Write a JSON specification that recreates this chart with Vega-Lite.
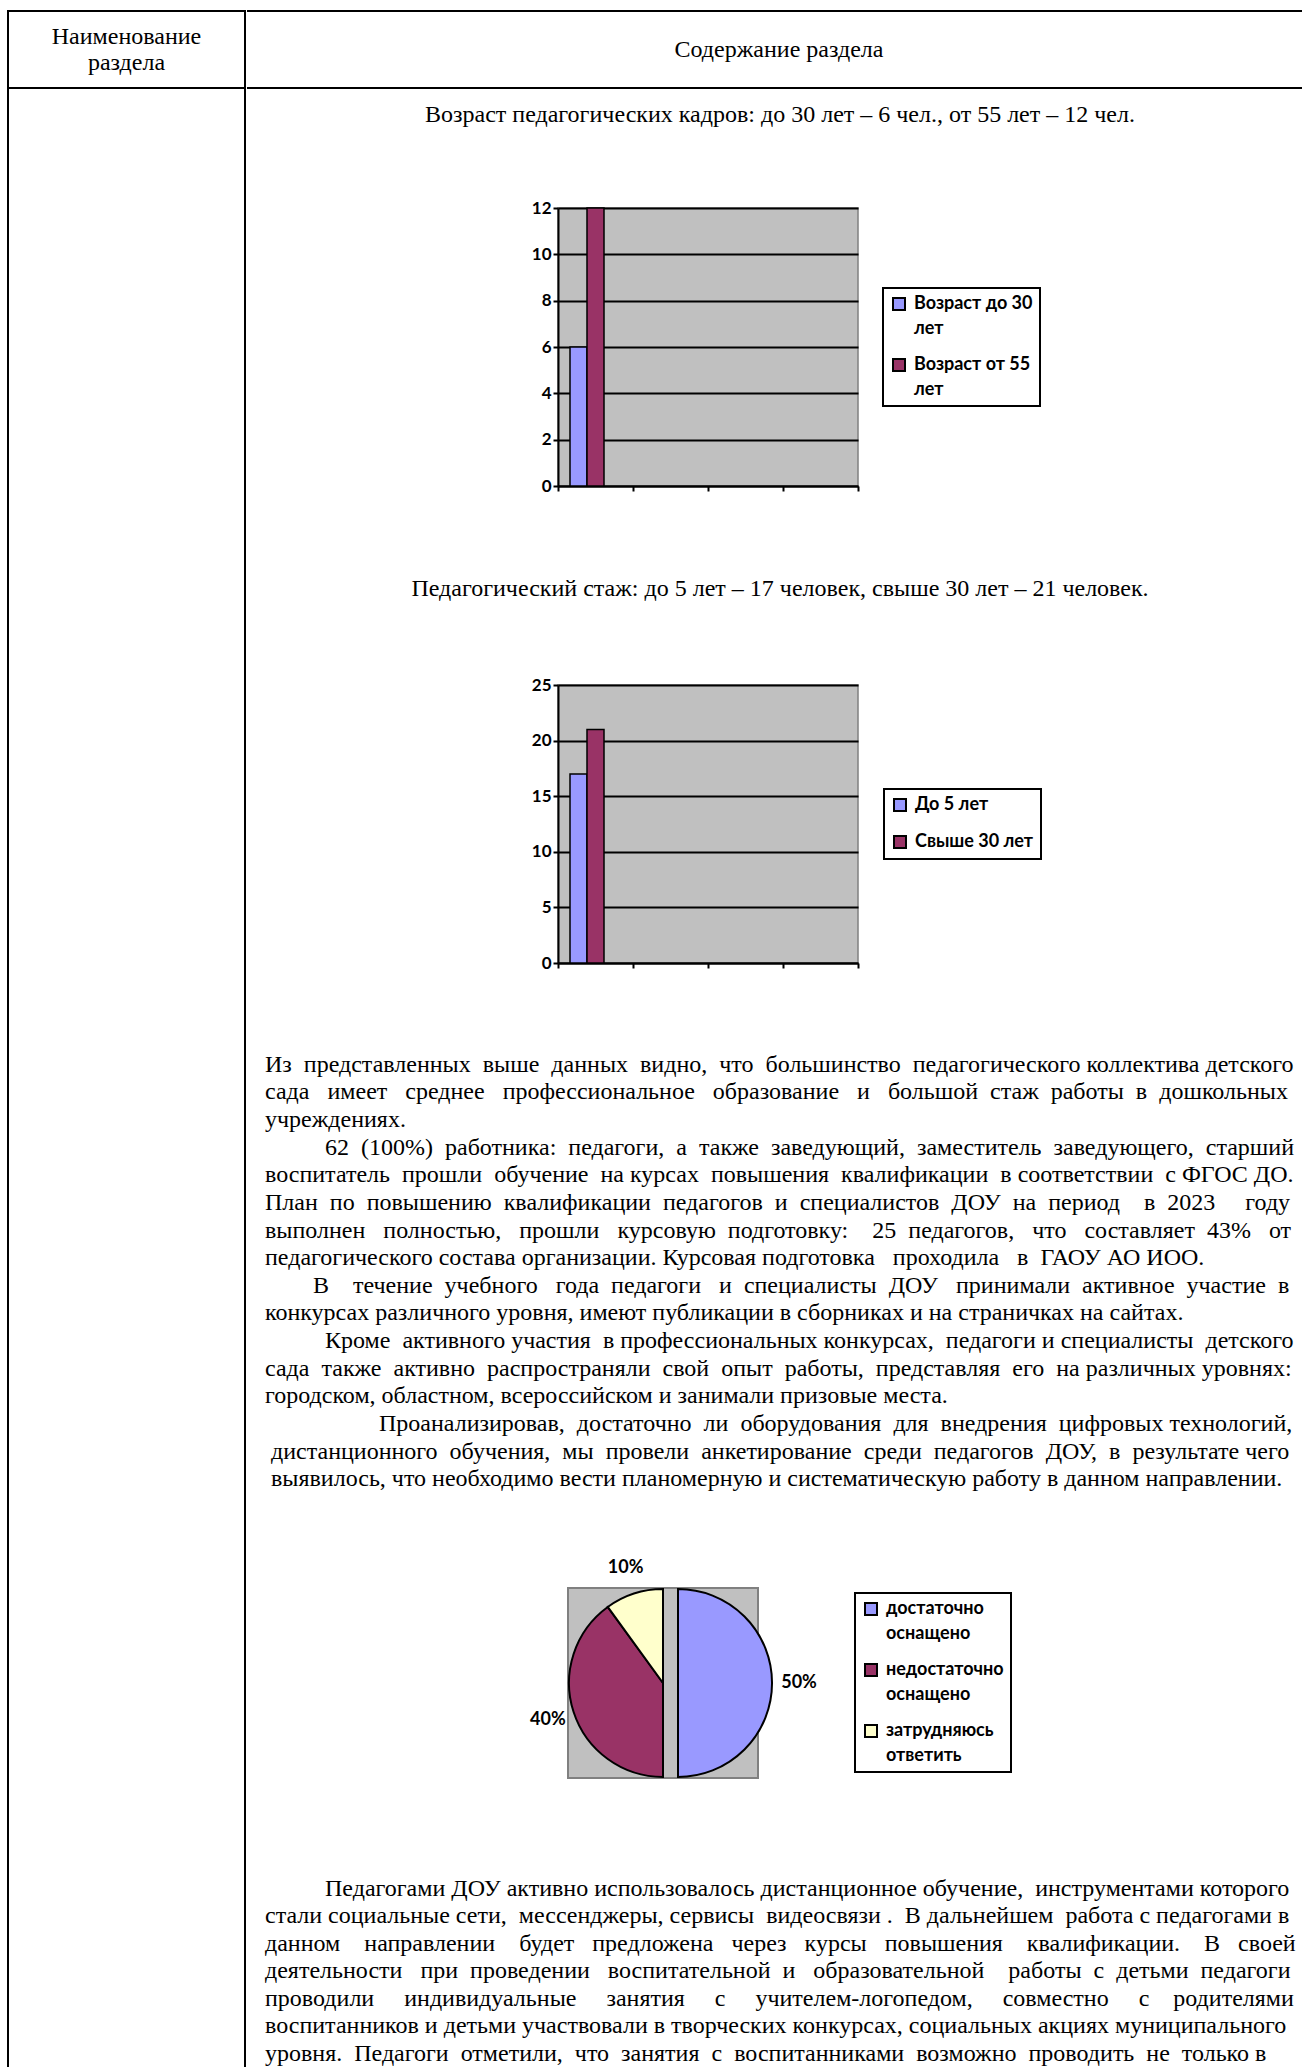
{
  "$schema": "https://vega.github.io/schema/vega-lite/v6.json",
  "padding": {"left": 7, "top": 10, "right": 0, "bottom": 0},
  "background": "white",
  "spacing": 0,
  "config": {
    "view": {"stroke": null},
    "style": {"guide-label": {"lineHeight": 25}},
    "legend": {
      "orient": "none",
      "title": null,
      "strokeColor": "black",
      "strokeWidth": 2,
      "fillColor": "white",
      "padding": 7,
      "symbolType": "square",
      "symbolSize": 144,
      "symbolStrokeColor": "black",
      "symbolStrokeWidth": 2,
      "symbolOpacity": 1,
      "labelFont": "Lato",
      "labelFontWeight": "bold",
      "labelFontSize": 18,
      "labelColor": "black",
      "labelOffset": 6,
      "labelLimit": 300,
      "rowPadding": 17
    }
  },
  "resolve": {"scale": {"color": "independent", "theta": "independent"}, "legend": {"color": "independent"}},
  "hconcat": [
    {
      "vconcat": [
        {
          "width": 237, "height": 77,
          "view": {"stroke": "black", "strokeWidth": 2},
          "data": {"values": [{"t": ["Наименование", "раздела"]}]},
          "mark": {"type": "text", "font": "Liberation Serif", "fontSize": 24, "lineHeight": 26, "dy": -13, "color": "black"},
          "encoding": {"text": {"field": "t"}}
        },
        {
          "width": 237, "height": 1979,
          "view": {"stroke": "black", "strokeWidth": 2, "strokeDash": [2216, 237, 1979]},
          "data": {"values": []},
          "mark": "point"
        }
      ],
      "spacing": 0,
      "bounds": "flush"
    },
    {
      "vconcat": [
        {
          "width": 1055, "height": 77,
          "view": {"stroke": "black", "strokeWidth": 2, "strokeDash": [1055, 77, 1055, 77]},
          "data": {"values": [{"t": "Содержание раздела"}]},
          "mark": {"type": "text", "font": "Liberation Serif", "fontSize": 24, "color": "black", "dx": 4.5},
          "encoding": {"text": {"field": "t"}}
        },
        {
          "width": 1056, "height": 52,
          "data": {"values": [{"t": "Возраст педагогических кадров: до 30 лет – 6 чел., от 55 лет – 12 чел."}]},
          "mark": {"type": "text", "font": "Liberation Serif", "fontSize": 24, "color": "black", "dx": 5},
          "encoding": {"text": {"field": "t"}}
        },
        {"width": 1, "height": 56.5, "data": {"values": []}, "mark": "point"},
        {
          "hconcat": [
            {"width": 311, "height": 278, "data": {"values": []}, "mark": "point"},
            {
              "width": 300, "height": 278,
              "view": {"fill": "#C0C0C0", "stroke": "#808080", "strokeWidth": 1.5},
              "data": {"values": [
                {"cat": "1", "series": "Возраст до 30 лет", "value": 6},
                {"cat": "1", "series": "Возраст от 55 лет", "value": 12}
              ]},
              "encoding": {
                "x": {"field": "cat", "type": "nominal",
                  "scale": {"domain": ["1", "2", "3", "4"], "paddingInner": 0, "paddingOuter": 0},
                  "axis": {"title": null, "labels": false, "tickBand": "extent", "tickSize": 5, "tickColor": "black", "tickWidth": 2, "domainColor": "black", "domainWidth": 2, "grid": false}},
                "y": {"field": "value", "type": "quantitative",
                  "scale": {"domain": [0, 12]},
                  "axis": {"title": null, "values": [0, 2, 4, 6, 8, 10, 12], "grid": true, "gridColor": "black", "gridWidth": 2,
                    "domainColor": "black", "domainWidth": 2, "tickColor": "black", "tickWidth": 2, "tickSize": 5,
                    "labelFont": "Lato", "labelFontWeight": "bold", "labelFontSize": 17, "labelColor": "black", "labelPadding": 2}},
                "color": {"field": "series", "type": "nominal",
                  "scale": {"domain": ["Возраст до 30 лет", "Возраст от 55 лет"], "range": ["#9999FF", "#993366"]},
                  "legend": {"legendX": 636, "legendY": 80,
                    "labelExpr": "[slice(datum.label, 0, lastindexof(datum.label, ' ')), slice(datum.label, lastindexof(datum.label, ' ') + 1)]"}}
              },
              "layer": [
                {
                  "transform": [{"filter": "datum.series == 'Возраст до 30 лет'"}],
                  "mark": {"type": "bar", "stroke": "black", "strokeWidth": 1.5, "width": {"band": 0.2267}, "xOffset": -17}
                },
                {
                  "transform": [{"filter": "datum.series == 'Возраст от 55 лет'"}],
                  "mark": {"type": "bar", "stroke": "black", "strokeWidth": 1.5, "width": {"band": 0.2267}}
                }
              ]
            }
          ],
          "spacing": 0,
          "bounds": "flush"
        },
        {
          "width": 1056, "height": 180,
          "data": {"values": [{"t": "Педагогический стаж: до 5 лет – 17 человек, свыше 30 лет – 21 человек."}]},
          "mark": {"type": "text", "font": "Liberation Serif", "fontSize": 24, "color": "black", "dx": 5, "dy": 4},
          "encoding": {"text": {"field": "t"}}
        },
        {
          "hconcat": [
            {"width": 311, "height": 278, "data": {"values": []}, "mark": "point"},
            {
              "width": 300, "height": 278,
              "view": {"fill": "#C0C0C0", "stroke": "#808080", "strokeWidth": 1.5},
              "data": {"values": [
                {"cat": "1", "series": "До 5 лет", "value": 17},
                {"cat": "1", "series": "Свыше 30 лет", "value": 21}
              ]},
              "encoding": {
                "x": {"field": "cat", "type": "nominal",
                  "scale": {"domain": ["1", "2", "3", "4"], "paddingInner": 0, "paddingOuter": 0},
                  "axis": {"title": null, "labels": false, "tickBand": "extent", "tickSize": 5, "tickColor": "black", "tickWidth": 2, "domainColor": "black", "domainWidth": 2, "grid": false}},
                "y": {"field": "value", "type": "quantitative",
                  "scale": {"domain": [0, 25]},
                  "axis": {"title": null, "values": [0, 5, 10, 15, 20, 25], "grid": true, "gridColor": "black", "gridWidth": 2,
                    "domainColor": "black", "domainWidth": 2, "tickColor": "black", "tickWidth": 2, "tickSize": 5,
                    "labelFont": "Lato", "labelFontWeight": "bold", "labelFontSize": 17, "labelColor": "black", "labelPadding": 2}},
                "color": {"field": "series", "type": "nominal",
                  "scale": {"domain": ["До 5 лет", "Свыше 30 лет"], "range": ["#9999FF", "#993366"]},
                  "legend": {"legendX": 637, "legendY": 104}}
              },
              "layer": [
                {
                  "transform": [{"filter": "datum.series == 'До 5 лет'"}],
                  "mark": {"type": "bar", "stroke": "black", "strokeWidth": 1.5, "width": {"band": 0.2267}, "xOffset": -17}
                },
                {
                  "transform": [{"filter": "datum.series == 'Свыше 30 лет'"}],
                  "mark": {"type": "bar", "stroke": "black", "strokeWidth": 1.5, "width": {"band": 0.2267}}
                }
              ]
            }
          ],
          "spacing": 0,
          "bounds": "flush"
        },
        {"width": 1, "height": 78.8, "data": {"values": []}, "mark": "point"},
        {
          "hconcat": [
            {"width": 18, "height": 442.1, "data": {"values": []}, "mark": "point"},
            {
              "width": 1, "height": 442.1,
              "data": {"values": [
                {"n": 1, "s": "Из \u00a0представленных \u00a0выше \u00a0данных \u00a0видно, \u00a0что \u00a0большинство \u00a0педагогического коллектива детского"},
                {"n": 2, "s": "сада \u00a0\u00a0имеет \u00a0\u00a0среднее \u00a0\u00a0профессиональное \u00a0\u00a0образование \u00a0\u00a0и \u00a0\u00a0большой \u00a0стаж \u00a0работы \u00a0в \u00a0дошкольных"},
                {"n": 3, "s": "учреждениях."},
                {"n": 4, "s": "\u200b\u00a0\u00a0\u00a0\u00a0\u00a0\u00a0\u00a0\u00a0\u00a0\u00a062 \u00a0(100%) \u00a0работника: \u00a0педагоги, \u00a0а \u00a0также \u00a0заведующий, \u00a0заместитель \u00a0заведующего, \u00a0старший"},
                {"n": 5, "s": "воспитатель \u00a0прошли \u00a0обучение \u00a0на курсах \u00a0повышения \u00a0квалификации \u00a0в соответствии \u00a0с ФГОС ДО."},
                {"n": 6, "s": "План \u00a0по \u00a0повышению \u00a0квалификации \u00a0педагогов \u00a0и \u00a0специалистов \u00a0ДОУ \u00a0на \u00a0период \u00a0\u00a0\u00a0в \u00a02023 \u00a0\u00a0\u00a0\u00a0году"},
                {"n": 7, "s": "выполнен \u00a0\u00a0полностью, \u00a0\u00a0прошли \u00a0\u00a0курсовую \u00a0подготовку: \u00a0\u00a0\u00a025 \u00a0педагогов, \u00a0\u00a0что \u00a0\u00a0составляет \u00a043% \u00a0\u00a0от"},
                {"n": 8, "s": "педагогического состава организации. Курсовая подготовка \u00a0\u00a0проходила \u00a0\u00a0в \u00a0ГАОУ АО ИОО."},
                {"n": 9, "s": "\u200b\u00a0\u00a0\u00a0\u00a0\u00a0\u00a0\u00a0\u00a0В \u00a0\u00a0\u00a0течение \u00a0учебного \u00a0\u00a0года \u00a0педагоги \u00a0\u00a0и \u00a0специалисты \u00a0ДОУ \u00a0\u00a0принимали \u00a0активное \u00a0участие \u00a0в"},
                {"n": 10, "s": "конкурсах различного уровня, имеют публикации в сборниках и на страничках на сайтах."},
                {"n": 11, "s": "\u200b\u00a0\u00a0\u00a0\u00a0\u00a0\u00a0\u00a0\u00a0\u00a0\u00a0Кроме \u00a0активного участия \u00a0в профессиональных конкурсах, \u00a0педагоги и специалисты \u00a0детского"},
                {"n": 12, "s": "сада \u00a0также \u00a0активно \u00a0распространяли \u00a0свой \u00a0опыт \u00a0работы, \u00a0представляя \u00a0его \u00a0на различных уровнях:"},
                {"n": 13, "s": "городском, областном, всероссийском и занимали призовые места."},
                {"n": 14, "s": "\u200b\u00a0\u00a0\u00a0\u00a0\u00a0\u00a0\u00a0\u00a0\u00a0\u00a0\u00a0\u00a0\u00a0\u00a0\u00a0\u00a0\u00a0\u00a0\u00a0Проанализировав, \u00a0достаточно \u00a0ли \u00a0оборудования \u00a0для \u00a0внедрения \u00a0цифровых технологий,"},
                {"n": 15, "s": "\u200b\u00a0дистанционного \u00a0обучения, \u00a0мы \u00a0провели \u00a0анкетирование \u00a0среди \u00a0педагогов \u00a0ДОУ, \u00a0в \u00a0результате чего"},
                {"n": 16, "s": "\u200b\u00a0выявилось, что необходимо вести планомерную и систематическую работу в данном направлении."}
              ]},
              "mark": {"type": "text", "align": "left", "baseline": "middle", "font": "Liberation Serif", "fontSize": 24, "color": "black"},
              "encoding": {
                "y": {"field": "n", "type": "ordinal", "axis": null, "scale": {"type": "band", "paddingInner": 0, "paddingOuter": 0}},
                "x": {"datum": 0, "type": "quantitative", "scale": {"domain": [0, 1]}, "axis": null},
                "text": {"field": "s"}
              }
            }
          ],
          "spacing": 0,
          "bounds": "flush"
        },
        {"width": 1, "height": 62.9, "data": {"values": []}, "mark": "point"},
        {
          "hconcat": [
            {"width": 321, "height": 190, "data": {"values": []}, "mark": "point"},
            {
              "width": 190, "height": 190,
              "view": {"fill": "#C0C0C0", "stroke": "#808080", "strokeWidth": 2},
              "data": {"values": [
                {"cat": "достаточно оснащено", "pct": 50, "ord": 1, "label": "50%"},
                {"cat": "недостаточно оснащено", "pct": 40, "ord": 2, "label": "40%"},
                {"cat": "затрудняюсь ответить", "pct": 10, "ord": 3, "label": "10%"}
              ]},
              "encoding": {
                "theta": {"field": "pct", "type": "quantitative", "stack": true},
                "order": {"field": "ord", "type": "quantitative"}
              },
              "layer": [
                {
                  "mark": {"type": "arc", "outerRadius": 94, "stroke": "black", "strokeWidth": 2},
                  "encoding": {
                    "color": {"field": "cat", "type": "nominal",
                      "scale": {"domain": ["достаточно оснащено", "недостаточно оснащено", "затрудняюсь ответить"], "range": ["#9999FF", "#993366", "#FFFFCC"]},
                      "legend": {"legendX": 608, "legendY": 5,
                        "labelExpr": "[slice(datum.label, 0, lastindexof(datum.label, ' ')), slice(datum.label, lastindexof(datum.label, ' ') + 1)]"}},
                    "opacity": {"condition": {"test": "datum.ord == 1", "value": 0}, "value": 1}
                  }
                },
                {
                  "mark": {"type": "arc", "outerRadius": 94, "stroke": "black", "strokeWidth": 2, "xOffset": 15},
                  "encoding": {
                    "color": {"field": "cat", "type": "nominal"},
                    "opacity": {"condition": {"test": "datum.ord == 1", "value": 1}, "value": 0}
                  }
                },
                {
                  "mark": {"type": "text", "radius": 121, "font": "Lato", "fontWeight": "bold", "fontSize": 18, "color": "black"},
                  "encoding": {
                    "text": {"field": "label"},
                    "opacity": {"condition": {"test": "datum.ord == 1", "value": 0}, "value": 1}
                  }
                },
                {
                  "mark": {"type": "text", "radius": 121, "font": "Lato", "fontWeight": "bold", "fontSize": 18, "color": "black", "xOffset": 15},
                  "encoding": {
                    "text": {"field": "label"},
                    "opacity": {"condition": {"test": "datum.ord == 1", "value": 1}, "value": 0}
                  }
                }
              ]
            }
          ],
          "spacing": 0,
          "bounds": "flush"
        },
        {"width": 1, "height": 92.8, "data": {"values": []}, "mark": "point"},
        {
          "hconcat": [
            {"width": 18, "height": 192.8, "data": {"values": []}, "mark": "point"},
            {
              "width": 1, "height": 192.8,
              "data": {"values": [
                {"n": 1, "s": "\u200b\u00a0\u00a0\u00a0\u00a0\u00a0\u00a0\u00a0\u00a0\u00a0\u00a0Педагогами ДОУ активно использовалось дистанционное обучение, \u00a0инструментами которого"},
                {"n": 2, "s": "стали социальные сети, \u00a0мессенджеры, сервисы \u00a0видеосвязи . \u00a0В дальнейшем \u00a0работа с педагогами в"},
                {"n": 3, "s": "данном \u00a0\u00a0\u00a0направлении \u00a0\u00a0\u00a0будет \u00a0\u00a0предложена \u00a0\u00a0через \u00a0\u00a0курсы \u00a0\u00a0повышения \u00a0\u00a0\u00a0квалификации. \u00a0\u00a0\u00a0В \u00a0\u00a0своей"},
                {"n": 4, "s": "деятельности \u00a0\u00a0при \u00a0проведении \u00a0\u00a0воспитательной \u00a0и \u00a0\u00a0образовательной \u00a0\u00a0\u00a0работы \u00a0с \u00a0детьми \u00a0педагоги"},
                {"n": 5, "s": "проводили \u00a0\u00a0\u00a0\u00a0индивидуальные \u00a0\u00a0\u00a0\u00a0занятия \u00a0\u00a0\u00a0\u00a0с \u00a0\u00a0\u00a0\u00a0учителем-логопедом, \u00a0\u00a0\u00a0\u00a0совместно \u00a0\u00a0\u00a0\u00a0с \u00a0\u00a0\u00a0родителями"},
                {"n": 6, "s": "воспитанников и детьми участвовали в творческих конкурсах, социальных акциях муниципального"},
                {"n": 7, "s": "уровня. \u00a0Педагоги \u00a0отметили, \u00a0что \u00a0занятия \u00a0с \u00a0воспитанниками \u00a0возможно \u00a0проводить \u00a0не \u00a0только в"}
              ]},
              "mark": {"type": "text", "align": "left", "baseline": "middle", "font": "Liberation Serif", "fontSize": 24, "color": "black"},
              "encoding": {
                "y": {"field": "n", "type": "ordinal", "axis": null, "scale": {"type": "band", "paddingInner": 0, "paddingOuter": 0}},
                "x": {"datum": 0, "type": "quantitative", "scale": {"domain": [0, 1]}, "axis": null},
                "text": {"field": "s"}
              }
            }
          ],
          "spacing": 0,
          "bounds": "flush"
        }
      ],
      "spacing": 0,
      "resolve": {"scale": {"color": "independent", "theta": "independent"}, "legend": {"color": "independent"}}
    }
  ]
}
